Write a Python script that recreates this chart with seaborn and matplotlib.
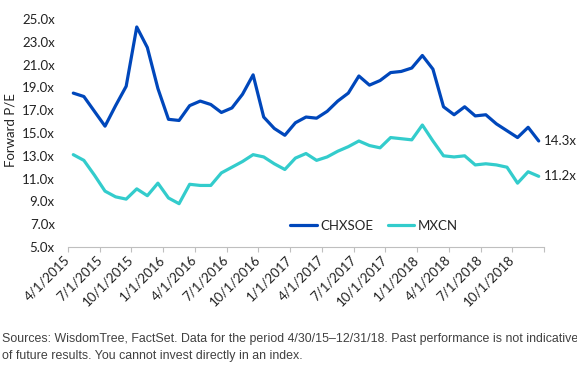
import pandas as pd
import matplotlib
matplotlib.use('Agg')
import matplotlib.pyplot as plt
import matplotlib.transforms as mtrans
import seaborn as sns

# month-end values, 4/30/15 - 12/31/18
months = pd.date_range('2015-04-01', '2018-12-01', freq='MS')
chxsoe = [18.5, 18.2, 16.9, 15.6, 17.4, 19.1, 24.3, 22.5, 18.9, 16.2,
          16.1, 17.4, 17.8, 17.5, 16.8, 17.2, 18.4, 20.1, 16.4, 15.4,
          14.8, 15.9, 16.4, 16.3, 16.9, 17.8, 18.5, 20.0, 19.2, 19.6,
          20.3, 20.4, 20.7, 21.8, 20.6, 17.3, 16.6, 17.3, 16.5, 16.6,
          15.8, 15.2, 14.6, 15.5, 14.3]
mxcn = [13.1, 12.6, 11.3, 9.9, 9.4, 9.2, 10.1, 9.5, 10.6, 9.3,
        8.8, 10.5, 10.4, 10.4, 11.5, 12.0, 12.5, 13.1, 12.9, 12.3,
        11.8, 12.8, 13.2, 12.6, 12.9, 13.4, 13.8, 14.3, 13.9, 13.7,
        14.6, 14.5, 14.4, 15.7, 14.3, 13.0, 12.9, 13.0, 12.2, 12.3,
        12.2, 12.0, 10.6, 11.6, 11.2]
tick_labels = [f"{d.month}/1/{d.year}" for d in months[::3]]
yticks = [5, 7, 9, 11, 13, 15, 17, 19, 21, 23, 25]

colors = {'CHXSOE': '#0047BB', 'MXCN': '#33CCCC'}

df = pd.DataFrame({'pos': range(len(months)), 'CHXSOE': chxsoe, 'MXCN': mxcn})
long = df.melt(id_vars='pos', var_name='series', value_name='pe')

sns.set_style('white')
plt.rcParams['font.family'] = ['Lato', 'DejaVu Sans']

fig = plt.figure(figsize=(5.77, 3.78), dpi=100)
ax = fig.add_axes([68 / 577, 1 - 247 / 378, 476 / 577, 228 / 378])

sns.lineplot(data=long, x='pos', y='pe', hue='series', palette=colors,
             linewidth=2.3, ax=ax, legend=True)

ax.set_xlim(-0.5, len(months) - 0.5)
ax.set_ylim(5, 25)
ax.set_yticks(yticks)
ax.set_yticklabels([f"{v:.1f}x" for v in yticks])
ax.set_xticks([i - 0.5 for i in range(0, len(months) + 1, 3)])
ax.set_xticklabels(tick_labels + [''], rotation=45, ha='right', va='center',
                   rotation_mode='anchor')
offset = mtrans.ScaledTranslation(3 / 100, 0, fig.dpi_scale_trans)
for lab in ax.get_xticklabels():
    lab.set_transform(lab.get_transform() + offset)

ax.tick_params(axis='y', length=0, pad=9.5, labelsize=9.5, labelcolor='#222222')
ax.tick_params(axis='x', length=3.6, width=0.8, color='#BFBFBF', direction='out',
               pad=4, labelsize=9.5, labelcolor='#222222', bottom=True)
for s in ['left', 'top', 'right']:
    ax.spines[s].set_visible(False)
ax.spines['bottom'].set_color('#BFBFBF')
ax.spines['bottom'].set_linewidth(0.8)
ax.set_xlabel('')
ax.set_ylabel('')

fig.text(11 / 577, 1 - 130 / 378, 'Forward P/E', rotation=90, ha='center',
         va='center', fontsize=9.5, color='#222222')

# end-of-series labels
ax.annotate(f"{chxsoe[-1]:.1f}x", (len(months) - 1, chxsoe[-1]), xytext=(3.5, 0),
            textcoords='offset points', va='center', fontsize=9.5, color='#222222')
ax.annotate(f"{mxcn[-1]:.1f}x", (len(months) - 1, mxcn[-1]), xytext=(3.5, 0),
            textcoords='offset points', va='center', fontsize=9.5, color='#222222')

ax.legend(loc='center', bbox_to_anchor=(374 / 577, 1 - 226 / 378),
          bbox_transform=fig.transFigure, ncol=2, frameon=False,
          fontsize=9.5, handlelength=2.0, columnspacing=1.1, handletextpad=0.25)

fig.text(2 / 577, 1 - 339 / 378,
         'Sources: WisdomTree, FactSet. Data for the period 4/30/15\u201312/31/18. '
         'Past performance is not indicative',
         fontsize=8.95, color='#404040', family='Liberation Sans', va='center')
fig.text(2 / 577, 1 - 356 / 378,
         'of future results. You cannot invest directly in an index.',
         fontsize=8.95, color='#404040', family='Liberation Sans', va='center')

fig.savefig('out.png', dpi=100)
